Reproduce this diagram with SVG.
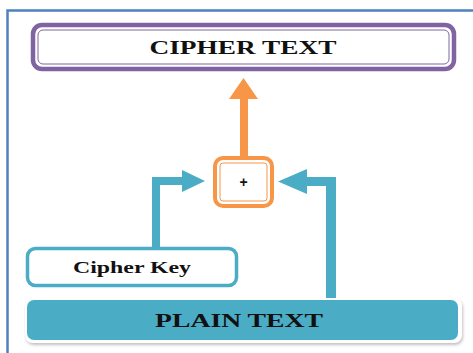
<svg xmlns="http://www.w3.org/2000/svg" width="473" height="353" viewBox="0 0 473 353">
<defs>
<style>
.lbl{font-family:"Liberation Serif","Times New Roman",serif;font-weight:bold;fill:#111;text-anchor:middle}
.blue{fill:#4bacc6}
.orange{fill:#f79646}
</style>
<filter id="sh" x="-5%" y="-20%" width="110%" height="150%">
<feDropShadow dx="1" dy="2" stdDeviation="1.5" flood-color="#999" flood-opacity="0.6"/>
</filter>
</defs>
<rect width="473" height="353" fill="#ffffff"/>
<g id="frame">
<path d="M7.5 353 V10.5 H473" fill="none" stroke="#4f81bd" stroke-width="2.5"/>
</g>
<g id="connectors">
<path class="orange" d="M240 156 V99 H229 L243.5 78 L258 99 H248 V156 Z"/>
<path class="blue" d="M152 248 V177 H182 V170 L205 181 L182 192 V185 H160 V248 Z"/>
<path class="blue" d="M336 300 V177 H307 V169 L278 181.5 L307 194 V186 H326 V300 Z"/>
</g>
<g id="cipher-text">
<rect x="33" y="25" width="421" height="44" rx="9" fill="#fff" stroke="#8064a2" stroke-width="4.5"/>
<rect x="38" y="30" width="411" height="34" rx="5" fill="none" stroke="#8064a2" stroke-width="1"/>
<text class="lbl" x="243" y="54" font-size="18" textLength="187" lengthAdjust="spacingAndGlyphs">CIPHER TEXT</text>
</g>
<g id="xor">
<rect x="215" y="158" width="57" height="48" rx="8" fill="#fff" stroke="#f79646" stroke-width="4"/>
<rect x="220" y="163" width="47" height="38" rx="3" fill="none" stroke="#f79646" stroke-width="1"/>
<text x="243.5" y="187" font-family="Liberation Sans,Arial,sans-serif" font-size="14" font-weight="bold" text-anchor="middle" fill="#111">+</text>
</g>
<g id="cipher-key">
<rect x="27.5" y="248.5" width="209" height="37" rx="8" fill="#fff" stroke="#4bacc6" stroke-width="3.5"/>
<text class="lbl" x="132" y="273" font-size="17" textLength="118" lengthAdjust="spacingAndGlyphs">Cipher Key</text>
</g>
<g id="plain-text">
<rect x="25" y="298" width="437" height="45" rx="8" fill="#fff" filter="url(#sh)"/>
<rect x="27" y="300" width="431" height="40" rx="7" class="blue"/>
<text class="lbl" x="239" y="327" font-size="19" textLength="168" lengthAdjust="spacingAndGlyphs">PLAIN TEXT</text>
</g>
</svg>
